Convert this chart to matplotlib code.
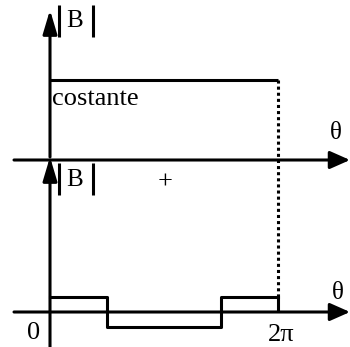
import numpy as np
import matplotlib
matplotlib.use("Agg")
import matplotlib.pyplot as plt

plt.rcParams['font.family'] = ['Liberation Serif', 'DejaVu Serif']

# schematic: |B| constant (top) and the B step wave (bottom) over one turn
theta_end = 2 * np.pi
b_const = 80.0                       # top panel level above its baseline
step_edges = [0, np.pi / 2, 3 * np.pi / 2, 2 * np.pi]
step_vals = [15, -15, 15]            # bottom panel values
top_base = 152.0                     # vertical offset of the top panel baseline

W, H = 350, 347
fig = plt.figure(figsize=(W / 100, H / 100), dpi=100)
ax = fig.add_axes([0, 0, 1, 1])
ax.axis('off')
# 228 px for one turn, origin 50 px from the left, baseline 35 px from the bottom
ax.set_xlim(-50 / 228 * theta_end, 300 / 228 * theta_end)
ax.set_ylim(-35, 312)

lw = 2.2
x0 = -36 / 228 * theta_end
x1 = 300 / 228 * theta_end

def arrow(xy_from, xy_to, hl, hw):
    ax.annotate('', xy=xy_to, xytext=xy_from,
                arrowprops=dict(arrowstyle='-|>,head_length=%g,head_width=%g' % (hl, hw),
                                color='black', lw=lw, shrinkA=0, shrinkB=0,
                                mutation_scale=10))

# horizontal axes
arrow((x0, top_base), (x1, top_base), 1.22, 0.54)
arrow((x0, 0), (x1, 0), 1.22, 0.54)
# vertical axes
arrow((0, top_base + 3), (0, 302), 1.44, 0.43)
arrow((0, -35), (0, top_base + 3), 1.44, 0.43)

# constant |B|
ax.plot([0, theta_end], [top_base + b_const] * 2, color='black', lw=lw,
        solid_capstyle='butt')
# step wave
xs = step_edges
ys = step_vals + [step_vals[-1]]
ax.step(xs, ys, where='post', color='black', lw=lw)
ax.plot([theta_end, theta_end], [step_vals[-1], 0], color='black', lw=lw,
        solid_capstyle='butt')
# dotted guide at 2pi
ax.plot([theta_end, theta_end], [top_base + b_const, step_vals[-1]],
        color='black', lw=lw, linestyle=(0, (1, 1)))

def fx(px):
    return px / W

def fy(py):
    return 1 - py / H

tr = ax.transAxes
# |B| labels
for cy, y_a, y_b in [(21, 5, 37), (179.5, 163, 195)]:
    ax.text(fx(75), fy(cy), 'B', transform=tr, ha='center', va='center', fontsize=18)
    for bx in (59, 93):
        ax.plot([fx(bx), fx(bx)], [fy(y_a), fy(y_b)], transform=tr,
                color='black', lw=lw, solid_capstyle='butt')

ax.text(fx(52), fy(105), 'costante', transform=tr, ha='left', va='baseline', fontsize=19)
ax.text(fx(165), fy(183), '+', transform=tr, ha='center', va='center', fontsize=19)
ax.text(fx(335.5), fy(133), 'θ', transform=tr, ha='center', va='center', fontsize=18)
ax.text(fx(337.5), fy(293), 'θ', transform=tr, ha='center', va='center', fontsize=18)
ax.text(fx(33.5), fy(333), '0', transform=tr, ha='center', va='center', fontsize=19)
ax.text(fx(281), fy(335), '2π', transform=tr, ha='center', va='center', fontsize=19)

fig.savefig('out.png', dpi=100)
